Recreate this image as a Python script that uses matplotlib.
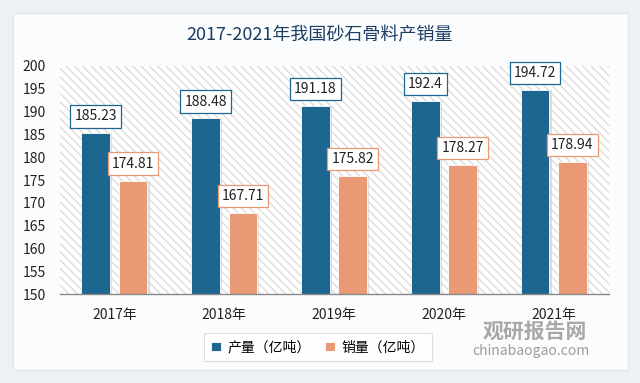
import matplotlib.pyplot as plt
import matplotlib.patches as mpatches
import numpy as np

plt.rcParams['font.family'] = ['Noto Sans CJK SC', 'DejaVu Sans']

years = ['2017年', '2018年', '2019年', '2020年', '2021年']
output = [185.23, 188.48, 191.18, 192.4, 194.72]
sales = [174.81, 167.71, 175.82, 178.27, 178.94]
labels = ['产量（亿吨）', '销量（亿吨）']

blue = '#1c6690'
orange = '#e99a74'

fig = plt.figure(figsize=(6.4, 3.83), dpi=100)
fig.patch.set_facecolor('#edf0f4')
card = mpatches.Rectangle((0.02, 0.035), 0.962, 0.93, transform=fig.transFigure,
                          facecolor='#fbfcfe', edgecolor='#e2e5ea', lw=0.8, zorder=-10)
fig.patches.append(card)

ax = fig.add_axes([0.093, 0.232, 0.858, 0.596])
ax.set_facecolor('white')
bg = mpatches.Rectangle((0, 0), 1, 1, transform=ax.transAxes, facecolor='white',
                        edgecolor='#dcdcdc', hatch='\\\\\\\\', lw=0, zorder=0)
ax.add_patch(bg)

x = np.arange(len(years))
w = 0.26
off = 0.17
# soft shadows behind bars
ax.bar(x - off + 0.02, np.array(output) - 150, w, bottom=150, color='#c9ccd2', alpha=0.6, zorder=1)
ax.bar(x + off + 0.02, np.array(sales) - 150, w, bottom=150, color='#c9ccd2', alpha=0.6, zorder=1)
b1 = ax.bar(x - off, np.array(output) - 150, w, bottom=150, color=blue, edgecolor='white', lw=0.6, zorder=2, label=labels[0])
b2 = ax.bar(x + off, np.array(sales) - 150, w, bottom=150, color=orange, edgecolor='white', lw=0.6, zorder=2, label=labels[1])

for xi, v in zip(x, output):
    ax.text(xi - off, v + 3.7, f'{v:g}', ha='center', va='center', fontsize=10,
            color='#222222', zorder=4,
            bbox=dict(boxstyle='square,pad=0.3', facecolor='white', edgecolor=blue, lw=0.9))
for xi, v in zip(x, sales):
    ax.text(xi + off, v + 3.8, f'{v:g}', ha='center', va='center', fontsize=10,
            color='#222222', zorder=4,
            bbox=dict(boxstyle='square,pad=0.3', facecolor='white', edgecolor=orange, lw=0.9))

ax.set_xlim(-0.5, 4.5)
ax.set_ylim(150, 200)
ax.set_yticks(np.arange(150, 201, 5))
ax.set_xticks(x)
ax.set_xticklabels(years)
ax.tick_params(axis='both', length=0, labelsize=10, colors='#222222')
ax.tick_params(axis='y', pad=10)
ax.tick_params(axis='x', pad=10)
for s in ['top', 'right', 'left']:
    ax.spines[s].set_visible(False)
ax.spines['bottom'].set_color('#888888')
ax.spines['bottom'].set_linewidth(1)

fig.text(0.5, 0.908, '2017-2021年我国砂石骨料产销量', ha='center', va='center',
         fontsize=13, fontweight='medium', color='#1d3d63')

leg = fig.legend(handles=[b1, b2], labels=labels, loc='center', bbox_to_anchor=(0.497, 0.093),
                 ncol=2, frameon=True, fontsize=10, handlelength=0.7, handleheight=0.7,
                 handletextpad=0.5, columnspacing=1.0, fancybox=False, borderpad=0.5)
leg.get_frame().set_edgecolor('#d8d8d8')
leg.get_frame().set_linewidth(0.8)

# watermark
fig.text(0.835, 0.135, '观研报告网', ha='center', va='center', fontsize=15,
         fontweight='bold', color='#8c8c8c', alpha=0.75)
fig.text(0.83, 0.083, 'chinabaogao.com', ha='center', va='center', fontsize=10,
         color='#8c8c8c', alpha=0.85)

fig.savefig('out.png', dpi=100, facecolor=fig.get_facecolor())
